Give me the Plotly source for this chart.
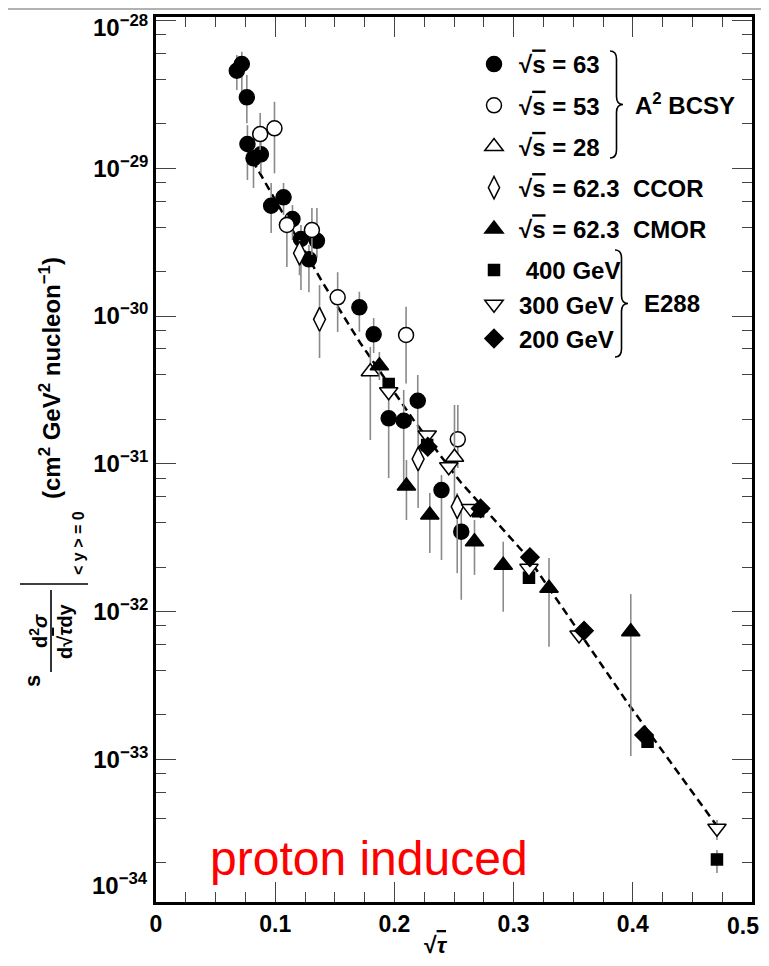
import plotly.graph_objects as go

# screen geometry (the page body adds an 8px margin)
OFF = 8
W, H = 769, 966
L, R, T, B = 156, 752, 17, 902
FW, FH = W - 2 * OFF, H - 2 * OFF

def px2x(px):
    return (px - L) / (R - L)

def py2y(py):
    return (B - py) / (B - T)

# ---------------- data ----------------
# A2 BCSY, sqrt(s)=63 (filled circles)
tau_63 = [0.0678, 0.0720, 0.0762, 0.0767, 0.0818, 0.0880, 0.0966, 0.1070, 0.1145, 0.1216,
          0.1350, 0.1283, 0.1706, 0.1826, 0.1952, 0.2078, 0.2196, 0.2395, 0.2561]
sig_63 = [4.57e-29, 5.08e-29, 3.02e-29, 1.46e-29, 1.168e-29, 1.243e-29, 5.58e-30, 6.36e-30, 4.53e-30, 3.32e-30,
          3.23e-30, 2.42e-30, 1.145e-30, 7.52e-31, 2.03e-31, 1.955e-31, 2.67e-31, 6.64e-32, 3.47e-32]
hi_63 = [5.84e-29, 6.15e-29, 4.28e-29, 1.96e-29, 1.76e-29, 1.55e-29, 7.95e-30, 7.95e-30, 5.64e-30, 4.13e-30,
         5.38e-30, 3.02e-30, 1.46e-30, 9.69e-31, 3.16e-31, 3.16e-31, 3.99e-31, 8.39e-32, 5.10e-32]
lo_63 = [3.39e-29, 3.30e-29, 2.02e-29, 8.33e-30, 7.35e-30, 9.29e-30, 3.65e-30, 4.83e-30, 3.27e-30, 1.50e-30,
         2.47e-30, 1.45e-30, 7.83e-31, 5.62e-31, 8.0e-32, 7.18e-32, 1.69e-31, 2.23e-32, 1.20e-32]

# A2 BCSY, sqrt(s)=53 (open circles)
tau_53 = [0.0874, 0.0994, 0.1098, 0.1308, 0.1524, 0.2098, 0.2532]
sig_53 = [1.705e-29, 1.864e-29, 4.13e-30, 3.82e-30, 1.338e-30, 7.44e-31, 1.464e-31]
hi_53 = [2.37e-29, 2.82e-29, 4.83e-30, 5.38e-30, 1.98e-30, 1.156e-30, 2.50e-31]
lo_53 = [1.33e-29, 9.24e-30, 2.15e-30, 2.59e-30, 7.79e-31, 3.50e-31, 9.36e-32]

# A2 BCSY, sqrt(s)=28 (open triangles)
tau_28 = [0.1798, 0.2504]
sig_28 = [4.20e-31, 1.106e-31]
hi_28 = [6.17e-31, 2.50e-31]
lo_28 = [1.448e-31, 5.68e-32]

# CCOR, sqrt(s)=62.3 (open diamonds)
tau_ccor = [0.1204, 0.1372, 0.2199, 0.2527]
sig_ccor = [2.66e-30, 9.50e-31, 1.077e-31, 5.12e-32]
hi_ccor = [3.27e-30, 1.62e-30, 1.69e-31, 6.34e-32]
lo_ccor = [1.89e-30, 5.20e-31, 5.02e-32, 1.82e-32]

# CMOR, sqrt(s)=62.3 (filled triangles)
tau_cmor = [0.1874, 0.2101, 0.2297, 0.2672, 0.2913, 0.3297, 0.3983]
sig_cmor = [4.61e-31, 7.07e-32, 4.50e-32, 2.97e-32, 2.06e-32, 1.436e-32, 7.30e-33]
hi_cmor = [5.71e-31, 1.06e-31, 6.34e-32, 4.16e-32, 2.97e-32, 2.30e-32, 1.313e-32]
lo_cmor = [3.69e-31, 4.16e-32, 2.49e-32, 1.77e-32, 9.97e-33, 5.78e-33, 1.052e-33]

# E288 400 GeV (filled squares)
tau_400 = [0.1952, 0.2275, 0.2702, 0.3129, 0.4124, 0.4706]
sig_400 = [3.465e-31, 1.339e-31, 4.77e-32, 1.693e-32, 1.314e-33, 2.10e-34]
hi_400 = [3.465e-31, 1.339e-31, 4.77e-32, 1.693e-32, 1.314e-33, 2.43e-34]
lo_400 = [3.465e-31, 1.339e-31, 4.77e-32, 1.693e-32, 1.314e-33, 1.70e-34]

# E288 300 GeV (open inverted triangles)
tau_300 = [0.1952, 0.2275, 0.2456, 0.2639, 0.3129, 0.3549, 0.4706]
sig_300 = [3.07e-31, 1.565e-31, 9.55e-32, 4.99e-32, 1.96e-32, 6.93e-33, 3.41e-34]
hi_300 = [3.07e-31, 1.565e-31, 9.55e-32, 4.99e-32, 1.96e-32, 6.93e-33, 3.88e-34]
lo_300 = [3.07e-31, 1.565e-31, 9.55e-32, 4.99e-32, 1.96e-32, 6.93e-33, 2.84e-34]

# E288 200 GeV (filled diamonds)
tau_200 = [0.2280, 0.2723, 0.3137, 0.3591, 0.4095]
sig_200 = [1.304e-31, 4.99e-32, 2.33e-32, 7.41e-33, 1.459e-33]

# dashed scaling curve
curve_tau = [0.081, 0.1395, 0.1714, 0.216, 0.2555, 0.3118, 0.3538, 0.3958, 0.4706]
curve_sig = [1.13e-29, 1.70e-30, 6.57e-31, 1.98e-31, 7.52e-32, 2.34e-32, 7.50e-33, 2.40e-33, 3.53e-34]

x_major = [0, 0.1, 0.2, 0.3, 0.4, 0.5]
x_labels = ["0", "0.1", "0.2", "0.3", "0.4", ""]          # "0.5" drawn as annotation (edge)
y_decades = [-34, -33, -32, -31, -30, -29, -28]
y_labels = [f"10<sup>\u2212{-d}</sup>" for d in y_decades[1:-1]] + [""]  # 1e-28 as annotation

FONT = "Liberation Sans"
ERR = "#8a8a8a"


def err(y, hi, lo):
    return dict(type="data", symmetric=False,
                array=[h - v for h, v in zip(hi, y)],
                arrayminus=[v - l for l, v in zip(lo, y)],
                color=ERR, thickness=1.6, width=0)


OV = "√<span style='text-decoration:overline'>s</span>"
NB = "\u00a0"

fig = go.Figure()

fig.add_trace(go.Scatter(x=curve_tau, y=curve_sig, mode="lines", showlegend=False,
                         line=dict(color="black", width=2.5, dash="8px,5px"), hoverinfo="skip"))

series = [
    (tau_63, sig_63, hi_63, lo_63, f"{OV}{NB}={NB}63", "circle", 15, "black", "legend"),
    (tau_53, sig_53, hi_53, lo_53, f"{OV}{NB}={NB}53", "circle", 15, "white", "legend"),
    (tau_28, sig_28, hi_28, lo_28, f"{OV}{NB}={NB}28", "triangle-up", 16, "white", "legend"),
    (tau_ccor, sig_ccor, hi_ccor, lo_ccor, f"{OV}{NB}={NB}62.3{NB}{NB}CCOR", "diamond-tall", 17, "white", "legend"),
    (tau_cmor, sig_cmor, hi_cmor, lo_cmor, f"{OV}{NB}={NB}62.3{NB}{NB}CMOR", "triangle-up", 16, "black", "legend"),
    (tau_400, sig_400, hi_400, lo_400, f"{NB}400 GeV", "square", 11, "black", "legend2"),
    (tau_300, sig_300, hi_300, lo_300, "300 GeV", "triangle-down", 16, "white", "legend2"),
    (tau_200, sig_200, sig_200, sig_200, "200 GeV", "diamond", 14, "black", "legend2"),
]

for tx, sy, hi, lo, name, sym, size, col, lg in series:
    fig.add_trace(go.Scatter(
        x=tx, y=sy, mode="markers", name=name, legend=lg, legendgroup=name,
        marker=dict(symbol=sym, size=size, color=col, line=dict(color="black", width=1.5)),
        error_y=err(sy, hi, lo)))

minor_y = [m * 10.0 ** d for d in y_decades[:-1] for m in (2, 4, 6, 8)]
minor_x = [i * 0.025 for i in range(21)]

fig.update_xaxes(range=[0, 0.5], tickmode="array", tickvals=x_major, ticktext=x_labels,
                 ticks="inside", ticklen=20, tickwidth=1.3, tickcolor="#444", automargin=False,
                 ticklabeloverflow="allow",
                 showline=True, linewidth=2.5, linecolor="black", mirror="allticks",
                 showgrid=False, zeroline=False,
                 tickfont=dict(family=FONT, size=23, color="black", weight="bold"),
                 minor=dict(tickmode="array", tickvals=minor_x, ticks="inside", ticklen=10,
                            tickwidth=1.3, tickcolor="#444", showgrid=False))

fig.update_yaxes(type="log", range=[-33.966, -27.976], tickmode="array",
                 tickvals=[10.0 ** d for d in y_decades[1:]], ticktext=y_labels,
                 ticks="inside", ticklen=20, tickwidth=1.3, tickcolor="#444", automargin=False,
                 ticklabeloverflow="allow",
                 showline=True, linewidth=2.5, linecolor="black", mirror="allticks",
                 showgrid=False, zeroline=False,
                 tickfont=dict(family=FONT, size=24, color="black", weight="bold"),
                 minor=dict(tickmode="array", tickvals=minor_y, ticks="inside", ticklen=10,
                            tickwidth=1.3, tickcolor="#444", showgrid=False))

leg_font = dict(family=FONT, size=24, color="black", weight="bold")
fig.update_layout(
    width=FW, height=FH,
    margin=dict(l=L - OFF, r=OFF + FW - R, t=T - OFF, b=OFF + FH - B, autoexpand=False),
    paper_bgcolor="white", plot_bgcolor="white",
    legend=dict(x=px2x(469), y=py2y(42), xanchor="left", yanchor="top", font=leg_font,
                bgcolor="rgba(0,0,0,0)", tracegroupgap=7, itemsizing="trace", itemwidth=40),
    legend2=dict(x=px2x(469), y=py2y(248), xanchor="left", yanchor="top", font=leg_font,
                 bgcolor="rgba(0,0,0,0)", tracegroupgap=0, itemsizing="trace", itemwidth=40),
)


def brace(x0, w, yt, yb):
    ym = (yt + yb) / 2
    xm = x0 + w / 2
    r = 8
    pts = (f"M {px2x(x0)},{py2y(yt)} Q {px2x(xm)},{py2y(yt)} {px2x(xm)},{py2y(yt + r)} "
           f"L {px2x(xm)},{py2y(ym - r)} Q {px2x(xm)},{py2y(ym)} {px2x(x0 + w)},{py2y(ym)} "
           f"Q {px2x(xm)},{py2y(ym)} {px2x(xm)},{py2y(ym + r)} "
           f"L {px2x(xm)},{py2y(yb - r)} Q {px2x(xm)},{py2y(yb)} {px2x(x0)},{py2y(yb)}")
    return dict(type="path", xref="paper", yref="paper", path=pts,
                line=dict(color="black", width=1.6))


shapes = [brace(610, 13, 51, 158), brace(615, 13, 250, 357)]
# y-title fraction bars
shapes.append(dict(type="line", xref="paper", yref="paper", x0=px2x(51), x1=px2x(51),
                   y0=py2y(590), y1=py2y(672), line=dict(color="black", width=1.6)))
shapes.append(dict(type="line", xref="paper", yref="paper", x0=px2x(20), x1=px2x(88),
                   y0=py2y(584), y1=py2y(584), line=dict(color="black", width=1.6)))
# thin grey line at the very top (scan edge)
shapes.append(dict(type="line", xref="paper", yref="paper", x0=px2x(OFF), x1=px2x(OFF + FW),
                   y0=py2y(OFF + 1), y1=py2y(OFF + 1), line=dict(color="#999", width=1.5)))
fig.update_layout(shapes=shapes)


def ann(text, px, py, size=20, angle=0, xa="center", ya="middle", color="black", weight="bold"):
    fig.add_annotation(text=text, x=px2x(px), y=py2y(py), xref="paper", yref="paper",
                       showarrow=False, textangle=angle, xanchor=xa, yanchor=ya,
                       font=dict(family=FONT, size=size, color=color, weight=weight))


ann("A<sup>2</sup> BCSY", 633, 104, size=24, xa="left")
ann("E288", 642, 303, size=24, xa="left")
ann("10<sup>\u221228</sup>", 150, OFF + 1, size=24, xa="right", ya="top")
ann("10<sup>\u221234</sup>", 150, 884, size=24, xa="right")
ann("0.5", OFF + FW, 926, size=23, xa="right")
ann("√<span style='text-decoration:overline'><i>τ</i></span>", 436, 945, size=23)
ann("proton induced", 369, 858, size=48, color="#ff0000", weight="normal")
# y axis title pieces
ann("s", 32, 681, size=22, angle=-90)
ann("d<sup>2</sup><i>σ</i>", 38, 631, size=20, angle=-90)
ann("d√<span style='text-decoration:overline'><i>τ</i></span>dy", 65, 631, size=20, angle=-90)
ann("&lt; y &gt; = 0", 78, 543, size=16, angle=-90)
ann("(cm<sup>2</sup> GeV<sup>2</sup> nucleon<sup>\u22121</sup>)", 50, 378, size=24, angle=-90)

fig.write_html("out.html")
